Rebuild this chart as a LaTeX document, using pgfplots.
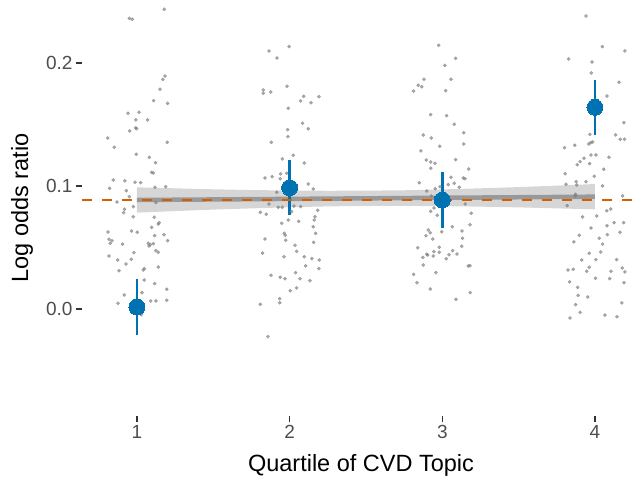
\documentclass[border=0pt]{standalone}
\usepackage{pgfplots}
\pgfplotsset{compat=1.18}
\usepackage{fontspec}
\setmainfont{Liberation Sans}
\definecolor{cblue}{HTML}{0072B2}
\definecolor{corange}{HTML}{D55E00}
\definecolor{tickgray}{HTML}{4D4D4D}
\definecolor{tickmark}{HTML}{333333}
\definecolor{smoothline}{HTML}{999999}
\definecolor{bandfill}{HTML}{999999}
\definecolor{pointgray}{HTML}{7F7F7F}
\begin{document}
\begin{tikzpicture}
\useasboundingbox (0,0) rectangle (640pt,477pt);
\begin{axis}[
  at={(82pt,61pt)}, anchor=south west,
  scale only axis, width=558pt, height=416pt,
  xmin=0.64, xmax=4.295, ymin=-0.087, ymax=0.2512,
  axis line style={draw=none},
  xtick={1,2,3,4}, xticklabels={1,2,3,4},
  ytick={0,0.1,0.2}, yticklabels={0.0,0.1,0.2},
  tick pos=left, tick align=outside, major tick length=6pt,
  tick style={line width=1.3pt, color=tickmark},
  ticklabel style={font=\fontsize{19}{21}\selectfont, text=tickgray},
  xlabel={Quartile of CVD Topic}, ylabel={Log odds ratio},
  every axis x label/.style={at={(axis description cs:0.5,0)}, anchor=base, yshift=-55pt, font=\fontsize{23.5}{26}\selectfont},
  every axis y label/.style={at={(axis description cs:-0.1075,0.5)}, anchor=center, rotate=90, font=\fontsize{23.5}{26}\selectfont},
]
% jittered observations
\addplot[only marks, mark=*, mark size=1.6pt, mark options={fill=pointgray, draw=pointgray, opacity=0.65}] coordinates {
(1.179,0.2437) (0.950,0.2363) (0.969,0.2355) (1.183,0.1894) (1.170,0.1867) (1.151,0.1786)
(1.109,0.1694) (1.201,0.1672) (1.013,0.1599) (0.941,0.1591) (0.993,0.1537) (1.070,0.1537)
(0.991,0.1472) (0.998,0.1466) (0.952,0.1447) (0.808,0.1390) (1.198,0.1355) (0.851,0.1315)
(0.995,0.1258) (1.081,0.1233) (1.122,0.1189) (1.096,0.1111) (1.107,0.1106) (0.845,0.1049)
(0.921,0.1041) (0.987,0.1030) (1.024,0.1027) (1.118,0.0989) (1.188,0.0994) (0.821,0.0981)
(0.930,0.0962) (0.950,0.0913) (0.869,0.0870) (1.124,0.0864) (0.976,0.0832) (0.919,0.0811)
(0.913,0.0783) (0.976,0.0750) (1.113,0.0746) (1.146,0.0702) (1.140,0.0691) (1.096,0.0664)
(0.810,0.0626) (0.965,0.0634) (1.002,0.0624) (1.116,0.0596) (1.177,0.0604) (0.817,0.0567)
(0.836,0.0555) (0.825,0.0534) (0.906,0.0528) (1.074,0.0534) (1.087,0.0523) (1.107,0.0531)
(1.079,0.0512) (1.201,0.0555) (1.124,0.0474) (1.140,0.0461) (0.980,0.0458) (0.817,0.0431)
(0.874,0.0398) (0.928,0.0366) (0.963,0.0404) (1.140,0.0341) (1.048,0.0328) (1.041,0.0317)
(0.882,0.0311) (1.048,0.0236) (1.116,0.0206) (1.033,0.0133) (1.195,0.0160) (0.917,0.0114)
(1.090,0.0065) (1.124,0.0065) (1.195,0.0071) (0.876,0.0046) (1.028,-0.0046)
(1.996,0.2133) (1.865,0.2098) (1.917,0.2041) (1.983,0.1811) (1.827,0.1780) (1.827,0.1754)
(1.876,0.1764) (2.092,0.1729) (2.192,0.1726) (2.072,0.1691) (2.140,0.1677) (1.991,0.1632)
(2.085,0.1510) (2.122,0.1466) (1.987,0.1458) (1.989,0.1401) (1.880,0.1355) (2.024,0.1250)
(1.952,0.1220) (2.096,0.1187) (1.941,0.1098) (1.981,0.1103) (1.838,0.1065) (1.886,0.1076)
(1.939,0.1059) (2.122,0.1016) (2.155,0.0976) (1.915,0.0949) (1.865,0.0854) (1.926,0.0827)
(1.952,0.0827) (2.028,0.0837) (2.072,0.0832) (2.184,0.0802) (1.808,0.0786) (1.847,0.0770)
(2.013,0.0791) (1.991,0.0724) (1.948,0.0697) (2.059,0.0713) (2.166,0.0750) (2.161,0.0724)
(2.155,0.0669) (1.965,0.0615) (1.971,0.0599) (2.170,0.0615) (1.838,0.0569) (1.974,0.0559)
(2.157,0.0542) (2.035,0.0518) (2.046,0.0469) (1.823,0.0455) (1.963,0.0425) (2.096,0.0425)
(2.146,0.0409) (2.194,0.0398) (2.105,0.0350) (2.192,0.0328) (2.039,0.0295) (1.878,0.0274)
(1.939,0.0258) (1.969,0.0246) (2.068,0.0246) (2.133,0.0230) (2.046,0.0171) (2.004,0.0149)
(1.935,0.0084) (1.935,0.0051) (1.808,0.0038) (1.858,-0.0225)
(2.976,0.2144) (3.087,0.2038) (3.017,0.1981) (2.880,0.1867) (3.057,0.1867) (2.843,0.1819)
(2.865,0.1807) (2.812,0.1772) (3.022,0.1775) (2.924,0.1580) (3.028,0.1572) (3.078,0.1502)
(3.140,0.1433) (2.875,0.1415) (2.928,0.1390) (3.140,0.1341) (2.983,0.1323) (2.860,0.1285)
(2.895,0.1211) (2.924,0.1195) (2.952,0.1185) (3.087,0.1214) (2.924,0.1144) (3.173,0.1138)
(3.057,0.1071) (3.137,0.1065) (3.148,0.1059) (2.849,0.1027) (3.039,0.1011) (3.078,0.1022)
(3.111,0.0989) (2.954,0.0978) (2.985,0.0994) (2.898,0.0959) (2.928,0.0919) (3.150,0.0854)
(2.945,0.0821) (2.924,0.0794) (3.190,0.0778) (2.967,0.0762) (2.996,0.0628) (2.908,0.0642)
(2.921,0.0620) (3.065,0.0669) (3.181,0.0685) (3.129,0.0634) (2.893,0.0596) (2.937,0.0569)
(3.133,0.0575) (2.839,0.0498) (2.980,0.0502) (3.127,0.0510) (2.945,0.0466) (2.980,0.0461)
(3.068,0.0474) (3.096,0.0447) (3.044,0.0441) (2.898,0.0445) (2.904,0.0439) (2.873,0.0420)
(2.941,0.0431) (3.026,0.0409) (2.875,0.0358) (3.170,0.0350) (3.181,0.0352) (2.812,0.0282)
(2.958,0.0295) (2.834,0.0214) (2.921,0.0163) (3.183,0.0133) (3.089,0.0079)
(3.941,0.2382) (4.048,0.2133) (4.196,0.2098) (3.828,0.2033) (3.980,0.2008) (3.976,0.1919)
(4.157,0.1843) (4.079,0.1732) (4.190,0.1515) (3.967,0.1420) (4.135,0.1415) (4.166,0.1380)
(4.194,0.1380) (3.985,0.1358) (3.972,0.1352) (3.959,0.1341) (3.801,0.1311) (3.867,0.1331)
(3.974,0.1252) (4.006,0.1252) (4.092,0.1233) (3.928,0.1225) (3.902,0.1198) (3.884,0.1173)
(3.965,0.1181) (4.057,0.1136) (3.805,0.1100) (3.995,0.1079) (3.941,0.1035) (3.877,0.1035)
(3.810,0.1014) (3.880,0.1008) (4.050,0.1000) (4.181,0.0919) (3.873,0.0933) (3.871,0.0919)
(3.818,0.0840) (4.103,0.0813) (4.077,0.0799) (3.919,0.0748) (4.011,0.0756) (4.126,0.0702)
(4.188,0.0702) (3.974,0.0659) (4.079,0.0677) (4.164,0.0624) (3.897,0.0599) (4.028,0.0575)
(4.081,0.0604) (3.862,0.0545) (4.050,0.0528) (3.963,0.0453) (4.038,0.0463) (3.913,0.0398)
(4.006,0.0401) (4.142,0.0401) (3.963,0.0339) (3.946,0.0307) (3.823,0.0317) (3.858,0.0323)
(4.105,0.0307) (4.179,0.0333) (4.196,0.0301) (4.004,0.0250) (4.096,0.0246) (3.834,0.0220)
(4.190,0.0214) (3.886,0.0176) (3.890,0.0111) (3.953,0.0098) (4.176,0.0049) (3.873,0.0035)
(3.903,-0.0027) (4.065,-0.0049) (4.144,-0.0063) (3.836,-0.0073)
};
% linear fit confidence band
\addplot[fill=bandfill, fill opacity=0.4, draw=none] coordinates {
(1,0.0989) (1.25,0.0981) (1.5,0.0973) (1.75,0.0967) (2,0.0963) (2.25,0.0961) (2.5,0.0962)
(2.75,0.0965) (3,0.0972) (3.25,0.0981) (3.5,0.0991) (3.75,0.1003) (4,0.1016)
(4,0.0810) (3.75,0.0818) (3.5,0.0826) (3.25,0.0832) (3,0.0836) (2.75,0.0838) (2.5,0.0838)
(2.25,0.0834) (2,0.0827) (1.75,0.0818) (1.5,0.0808) (1.25,0.0796) (1,0.0783)
} -- cycle;
% linear fit
\addplot[smoothline, line width=4.5pt] coordinates {(1,0.0886) (4,0.0913)};
% means with intervals
\addplot[color=cblue, only marks, mark=*, mark size=8pt, mark options={fill=cblue, draw=cblue, line width=0pt},
  error bars/.cd, y dir=both, y explicit, error mark=none,
  error bar style={line width=2.6pt, color=cblue}] coordinates {
(1,0.0016) +- (0,0.0224)
(2,0.0986) +- (0,0.0222)
(3,0.0886) +- (0,0.0225)
(4,0.1640) +- (0,0.0222)
};
% overall reference line
\addplot[corange, line width=2.5pt, dash pattern=on 10pt off 10pt] coordinates {(0.64,0.0886) (4.295,0.0886)};
\end{axis}
\end{tikzpicture}
\end{document}
